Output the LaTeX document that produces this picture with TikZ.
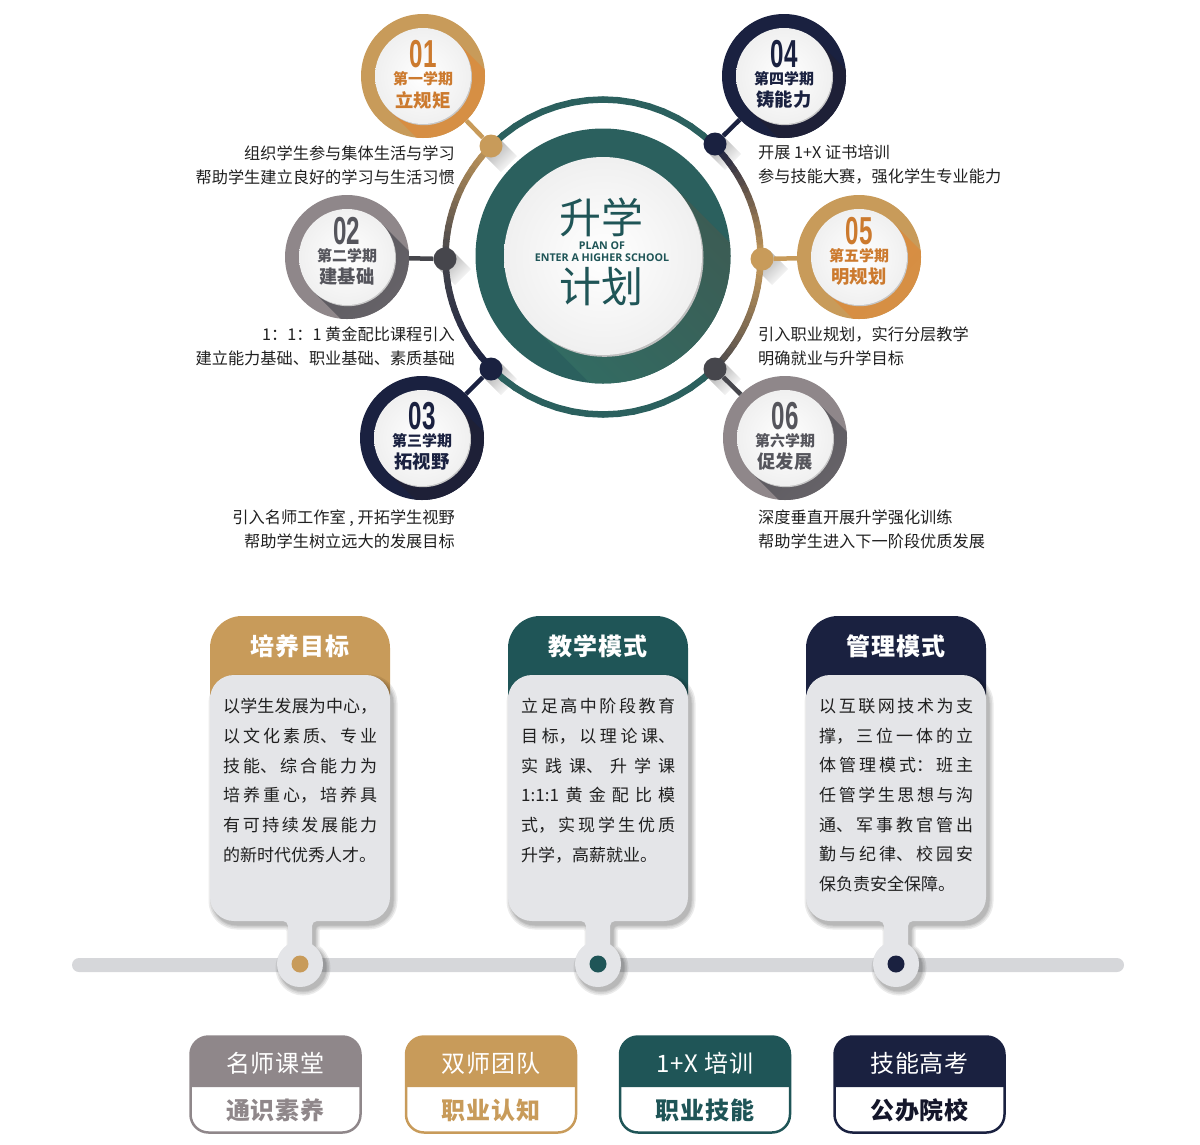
\documentclass[tikz,border=0pt]{standalone}
\usepackage{fontspec}
\setmainfont{Noto Sans CJK SC}
\newfontfamily\spacedfont[LetterSpace=4]{Noto Sans CJK SC}
\newfontfamily\numfont[FakeStretch=.62]{Liberation Sans}
\newfontfamily\latinfont{Open Sans}
\usetikzlibrary{positioning}
\usetikzlibrary{calc}
\XeTeXlinebreaklocale "zh"
\XeTeXlinebreakskip=0pt plus 4pt
\tolerance=9999
\hbadness=10000
\definecolor{goldtone}{HTML}{C89B5A}
\definecolor{goldshade}{HTML}{D98C3F}
\definecolor{orangeink}{HTML}{CC7A2E}
\definecolor{navytone}{HTML}{1A2140}
\definecolor{navyshade}{HTML}{1F2035}
\definecolor{graytone}{HTML}{8F878A}
\definecolor{grayshade}{HTML}{5A585E}
\definecolor{grayink}{HTML}{55555C}
\definecolor{darkknob}{HTML}{46464C}
\definecolor{tealtone}{HTML}{2B605E}
\definecolor{tealdark}{HTML}{3D5A52}
\definecolor{teallight}{HTML}{316D64}
\definecolor{tealink}{HTML}{1F5557}
\definecolor{cardgray}{HTML}{E4E5E8}
\definecolor{barcolor}{HTML}{D6D7DA}
\definecolor{bodyink}{HTML}{202020}
\definecolor{trackink}{HTML}{14162A}
\tikzset{
	semdisc/.style = {circle, minimum size = 124pt, inner sep = 0pt},
	semface/.style = {circle, minimum size = 96pt, inner sep = 0pt, inner color = white, outer color = black!6, preaction = {fill = black!22, transform canvas = {shift = {(1pt,-1.2pt)}}}},
	knob/.style = {circle, minimum size = 23pt, inner sep = 0pt},
	link/.style = {line width = 4.5pt},
	numtext/.style = {inner sep = 0pt, font = \numfont\bfseries\fontsize{39}{39}\selectfont},
	termtext/.style = {inner sep = 0pt, font = \bfseries\fontsize{15}{15}\selectfont},
	goaltext/.style = {inner sep = 0pt, font = \bfseries\fontsize{18.3}{18.3}\selectfont},
	noteleft/.style = {inner sep = 0pt, anchor = east, align = right, text = bodyink, font = \fontsize{16.2}{24}\selectfont},
	noteright/.style = {inner sep = 0pt, anchor = west, align = left, text = bodyink, font = \fontsize{16.2}{24}\selectfont},
	cardtext/.style = {inner sep = 0pt, anchor = north west, text width = 154pt, align = justify, text = bodyink, font = \fontsize{17}{29.7}\selectfont},
	cardtitle/.style = {inner sep = 0pt, text = white, font = \spacedfont\bfseries\fontsize{24}{24}\selectfont},
	carddot/.style = {circle, minimum size = 17pt, inner sep = 0pt},
	trackbox/.style = {rectangle, minimum width = 170pt, minimum height = 96pt, rounded corners = 18pt, line width = 2.5pt, fill = white},
	tracktop/.style = {inner sep = 0pt, text = white, font = \spacedfont\fontsize{24}{24}\selectfont},
	trackbottom/.style = {inner sep = 0pt, font = \spacedfont\bfseries\fontsize{24}{24}\selectfont},
}
\newcommand{\cardbody}{(0,675) [rounded corners=24pt] -- (90,675) -- (90,921) [rounded corners=5pt] -- (12,921) [sharp corners] -- (12,950) -- (-12,950) [rounded corners=5pt] -- (-12,921) [rounded corners=24pt] -- (-90,921) -- (-90,675) [sharp corners] -- cycle}
\newcommand{\plancard}[5]{
	\begin{scope}[shift = {(#1,0)}]
		\fill[#2] (-90,695) [rounded corners=32pt] -- (-90,616) -- (90,616) [sharp corners] -- (90,695) -- cycle;
		% soft shadow
		\foreach \w in {9,6,3,1} {
			\begin{scope}[transparency group, opacity = .08, shift = {(3,4)}]
				\filldraw[black, line width = \w pt] \cardbody;
				\filldraw[black, line width = \w pt] (0,964) circle (23);
			\end{scope}
		}
		\fill[cardgray] \cardbody;
		\fill[cardgray] (0,964) circle (23);
		\node (dot#4) [carddot, fill = #2] at (0,964) {};
		\node (title#4) [cardtitle] at (0,646.5) {#3};
		\node (text#4) [cardtext] at (-77,698) {#5};
	\end{scope}
}
\newcommand{\trackcard}[6]{
	\node (box#1) [trackbox, draw = #3] at (#2,1084.5) {};
	\fill[#3] (#2-85,1087) [rounded corners=18pt] -- (#2-85,1036.5) -- (#2+85,1036.5) [sharp corners] -- (#2+85,1087) -- cycle;
	\node (top#1) [tracktop] at (#2,1063) {#4};
	\node (bottom#1) [trackbottom, text = #5] at (#2,1110.5) {#6};
}

\begin{document}
\begin{tikzpicture}[x = 1pt, y = -1pt]
	\useasboundingbox (0,0) rectangle (1200,1144);

	% short shadows behind the knobs
	\foreach \kx/\ky in {491/146, 445/259, 491/369, 715/144, 762/259, 715/369} {
		\shade[top color = black!35, bottom color = white, shading angle = 45] ({\kx+8},{\ky-8}) -- ({\kx+26},{\ky+10}) -- ({\kx+10},{\ky+26}) -- ({\kx-8},{\ky+8}) -- cycle;
	}

	% outer ring, blended between the knobs
	\foreach \sa/\sb/\colA/\colB in {45/135/tealtone/tealtone, 135/180/goldtone/darkknob, 180/225/darkknob/navytone, 225/315/tealtone/tealtone, 315/360/darkknob/goldtone, 0/45/goldtone/navytone} {
		\foreach \i in {1,...,16} {
			\pgfmathsetmacro{\pa}{\sa+(\sb-\sa)*(\i-1)/16}
			\pgfmathsetmacro{\pb}{\sa+(\sb-\sa)*\i/16}
			\pgfmathsetmacro{\mixed}{100*(\i-.5)/16}
			\colorlet{segcolor}{\colB!\mixed!\colA}
			\draw[segcolor, line width = 6.5pt, line cap = round] ({603+157.5*cos(\pa)},{257-157.5*sin(\pa)}) -- ({603+157.5*cos(\pb)},{257-157.5*sin(\pb)});
		}
	}

	% centre
	\node (ring) [circle, minimum size = 255pt, inner sep = 0pt, fill = tealtone] at (603,256) {};
	\begin{scope}
		\clip (603,256) circle (127.5);
		\shade[top color = tealdark, bottom color = teallight, shading angle = -45] (673,186) -- (793,306) -- (653,446) -- (533,326) -- cycle;
	\end{scope}
	\node (face) [circle, minimum size = 198pt, inner sep = 0pt, inner color = white, outer color = black!6, preaction = {fill = black!25, transform canvas = {shift = {(1.5pt,-1.8pt)}}}] at (603,256) {};
	\node (rise) [inner sep = 0pt, text = tealink, font = \fontsize{42}{42}\selectfont] at (601,217) {升学};
	\node (planA) [inner sep = 0pt, text = tealink, font = \latinfont\bfseries\fontsize{10.7}{11}\selectfont] at (602,246) {PLAN OF};
	\node (planB) [inner sep = 0pt, text = tealink, font = \latinfont\bfseries\fontsize{10.7}{11}\selectfont] at (602,258) {ENTER A HIGHER SCHOOL};
	\node (plan) [inner sep = 0pt, text = tealink, font = \fontsize{42}{42}\selectfont] at (601,287) {计划};

	% six terms
	\foreach \id/\cx/\cy/\ty/\base/\dark/\ink/\knobcol/\kx/\ky/\numtxt/\term/\goal in {
		a/423/76/76/goldtone/goldshade/orangeink/goldtone/491/146/01/第一学期/立规矩,
		b/347/257/253/graytone/grayshade/grayink/darkknob/445/259/02/第二学期/建基础,
		c/422/438/438/navytone/navyshade/navytone/navytone/491/369/03/第三学期/拓视野,
		d/784/76/76/navytone/navyshade/navytone/navytone/715/144/04/第四学期/铸能力,
		e/859/257/253/goldtone/goldshade/orangeink/goldtone/762/259/05/第五学期/明规划,
		f/785/438/438/graytone/grayshade/grayink/darkknob/715/369/06/第六学期/促发展} {
		\node (disc\id) [semdisc, fill = \base] at (\cx,\cy) {};
		\node (knob\id) [knob, fill = \knobcol] at (\kx,\ky) {};
		\draw[link, \knobcol] (disc\id) -- (knob\id);
		\begin{scope}
			\clip (\cx,\cy) circle (62);
			\shade[top color = \dark, bottom color = \dark!55!\base, shading angle = 45] ({\cx+34},{\cy-34}) -- ({\cx+124},{\cy+56}) -- ({\cx+56},{\cy+124}) -- ({\cx-34},{\cy+34}) -- cycle;
		\end{scope}
		\node (face\id) [semface] at (\cx,\cy) {};
		\node (num\id) [numtext, text = \ink] at (\cx,{\ty-22}) {\numtxt};
		\node (term\id) [termtext, text = \ink] at (\cx,{\ty+3}) {\term};
		\node (goal\id) [goaltext, text = \ink] at (\cx,{\ty+24}) {\goal};
	}

	% notes beside the terms
	\node (notea) [noteleft] at (455,165) {组织学生参与集体生活与学习\\帮助学生建立良好的学习与生活习惯};
	\node (noteb) [noteleft] at (455,346) {1：1：1 黄金配比课程引入\\建立能力基础、职业基础、素质基础};
	\node (notec) [noteleft] at (455,529.5) {引入名师工作室 , 开拓学生视野\\帮助学生树立远大的发展目标};
	\node (noted) [noteright] at (758,165) {开展 1+X 证书培训\\参与技能大赛，强化学生专业能力};
	\node (notee) [noteright] at (758,346) {引入职业规划，实行分层教学\\明确就业与升学目标};
	\node (notef) [noteright] at (758,529.5) {深度垂直开展升学强化训练\\帮助学生进入下一阶段优质发展};

	% timeline with its three cards
	\node (timeline) [rectangle, rounded corners = 7pt, minimum width = 1052pt, minimum height = 14pt, inner sep = 0pt, fill = barcolor] at (598,965) {};
	\plancard{300}{goldtone}{培养目标}{a}{以学生发展为中心，\linebreak 以文化素质、专业\linebreak 技能、综合能力为\linebreak 培养重心，培养具\linebreak 有可持续发展能力\linebreak 的新时代优秀人才。}
	\plancard{598}{tealink}{教学模式}{b}{立足高中阶段教育\linebreak 目标，以理论课、\linebreak 实践课、升学课\linebreak 1:1:1 黄金配比模\linebreak 式，实现学生优质\linebreak 升学，高薪就业。}
	\plancard{896}{navytone}{管理模式}{c}{以互联网技术为支\linebreak 撑，三位一体的立\linebreak 体管理模式：班主\linebreak 任管学生思想与沟\linebreak 通、军事教官管出\linebreak 勤与纪律、校园安\linebreak 保负责安全保障。}

	% four tracks at the bottom
	\trackcard{a}{275.5}{graytone}{名师课堂}{graytone}{通识素养}
	\trackcard{b}{491}{goldtone}{双师团队}{goldtone}{职业认知}
	\trackcard{c}{705}{tealink}{1+X 培训}{tealink}{职业技能}
	\trackcard{d}{919.5}{navytone}{技能高考}{trackink}{公办院校}
\end{tikzpicture}
\end{document}
